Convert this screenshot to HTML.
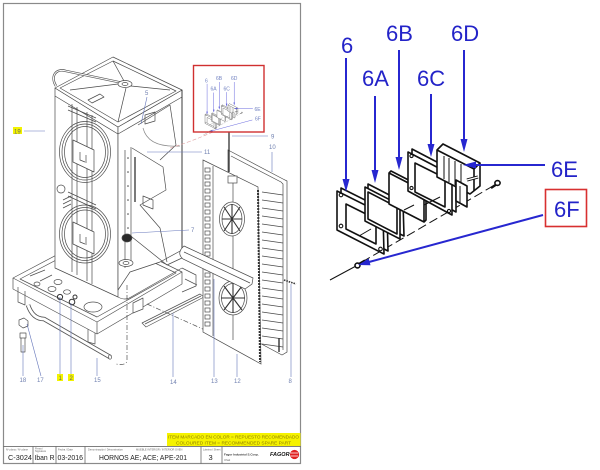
<!DOCTYPE html>
<html><head><meta charset="utf-8">
<style>
html,body{margin:0;padding:0;background:#fff;}
svg{display:block;}
text{font-family:"Liberation Sans",Arial,sans-serif;}
</style></head>
<body>
<svg width="600" height="470" viewBox="0 0 600 470" xmlns="http://www.w3.org/2000/svg">
<rect width="600" height="470" fill="#fff"/>

<!-- ============ LEFT SHEET ============ -->
<rect x="3.5" y="3.5" width="297" height="460" fill="none" stroke="#8a8a8a" stroke-width="1.2"/>

<!-- Base platform -->
<g stroke="#505050" stroke-width="0.7" fill="none" stroke-linejoin="round">
  <polygon points="13,278 100,232 182,272 97,322" fill="#fff"/>
  <path d="M20,279 L100,237 L176,273 L97,317 Z"/>
  <path d="M13,278 L13,289 L97,334 L182,284 L182,272 M97,322 L97,334"/>
  <path d="M18,287 L18,302 L25,305 L25,291 M88,329 L88,342 L95,344 L95,333"/>
  <path d="M182,268 L196,275 L196,286 L182,292 M185,279 L197,285"/>
  <ellipse cx="52" cy="289" rx="4" ry="2.5"/>
  <ellipse cx="58" cy="282" rx="4" ry="2.5"/>
  <ellipse cx="67" cy="292" rx="3.5" ry="2.2"/>
  <ellipse cx="93" cy="307" rx="9" ry="5"/>
  <ellipse cx="37" cy="284" rx="3" ry="2"/>
  <path d="M30,276 L45,270 M40,281 L52,275"/>
  <circle cx="60" cy="297" r="2.6" stroke="#333" stroke-width="1"/>
  <circle cx="72" cy="302" r="2.8" stroke="#333" stroke-width="1"/>
  <circle cx="75" cy="297" r="2" stroke="#333" stroke-width="1"/>
  <path d="M118,297 Q125,301 131,297 L182,268"/>
  <path d="M133,303 L143,298 L143,309 L133,313 Z" fill="#fff"/>
  <!-- bar 14 -->
  <polygon points="142,323 200,294 204,297 146,327" fill="#fff"/>
  <path d="M145,324 L201,296"/>
  <!-- rod 15 -->
  <path d="M28,305 C31,314 36,319 44,319 L110,357" stroke="#555" stroke-width="4.5"/>
  <path d="M28,305 C31,314 36,319 44,319 L110,357" stroke="#fff" stroke-width="2.8"/>
  <ellipse cx="110" cy="357" rx="1.6" ry="2.2"/>
  <path d="M127,285 L127,360 Q127,366 116,364" stroke-dasharray="5 2 1 2"/>
  <path d="M147,304 L205,330" stroke-dasharray="5 2 1 2"/>
  <!-- 17, 18 -->
  <polygon points="19,320 24,318 28,321 28,326 23,328 19,325" fill="#fff"/>
  <path d="M20,333 L26,333 L26,338 L20,338 Z M21,338 L21,352 L25,352 L25,338"/>
</g>

<!-- Oven body -->
<g stroke="#4a4a4a" stroke-width="0.7" fill="none" stroke-linejoin="round">
  <polygon points="55,88 118,127 118,297 55,268" fill="#fff"/>
  <polygon points="118,127 182,90 182,250 160,262 130,272 118,290" fill="#fff"/>
  <polygon points="55,88 113,57 182,90 118,127" fill="#fff"/>
  <path d="M60,88 L113,61 L176,91 L118,122 Z"/>
  <path d="M55,96 L118,134 L182,97"/>
  <path d="M113,61 L124,81 M131,86 L170,90 M118,122 L126,88 M70,90 L118,84"/>
  <polygon points="88,100 100,94 104,97 92,103" />
  <path d="M56,86 C50,76 56,68 66,71 L123,83" stroke="#555" stroke-width="2.4"/>
  <path d="M56,86 C50,76 56,68 66,71 L123,83" stroke="#fff" stroke-width="1"/>
  <ellipse cx="125" cy="84" rx="7" ry="3.5" fill="#fff"/>
  <ellipse cx="125" cy="84" rx="3" ry="1.5"/>
  <!-- door circles -->
  <ellipse cx="85" cy="152" rx="25.5" ry="30.5"/>
  <ellipse cx="85" cy="152" rx="23" ry="28"/>
  <ellipse cx="85" cy="152" rx="20.5" ry="25.5"/>
  <ellipse cx="85" cy="234" rx="25.5" ry="29"/>
  <ellipse cx="85" cy="234" rx="23" ry="26.5"/>
  <ellipse cx="85" cy="234" rx="20.5" ry="24"/>
  <!-- bars -->
  <path d="M72,104 L72,272 M77,107 L77,275 M87,112 L87,281 M92,115 L92,284"/>
  <path d="M68,106 L96,118 M68,110 L96,122 M68,192 L96,205 M68,196 L96,209"/>
  <polygon points="73,140 94,150 94,172 73,162" fill="#fff"/>
  <polygon points="73,222 94,232 94,254 73,244" fill="#fff"/>
  <path d="M80,152 L80,160 L85,162 M86,155 L86,163"/>
  <path d="M80,234 L80,242 L85,244 M86,237 L86,245"/>
  <ellipse cx="61" cy="189" rx="4" ry="4" fill="#fff"/>
  <path d="M63,200 L71,196 M63,204 L71,200 M63,208 L71,204"/>
  <!-- right face -->
  <path d="M125,150 L125,268 M131,147 L131,262"/>
  <path d="M135,157 L135,202" stroke="#333" stroke-width="1.3"/>
  <g fill="#444" stroke="none">
    <circle cx="128" cy="158" r="0.8"/><circle cx="128" cy="172" r="0.8"/><circle cx="128" cy="186" r="0.8"/>
    <circle cx="128" cy="200" r="0.8"/><circle cx="128" cy="214" r="0.8"/><circle cx="128" cy="228" r="0.8"/>
  </g>
  <path d="M132,148 L163,167 L166,190 L140,205 L160,228 L167,262"/>
  <path d="M138,125 L170,105 L176,145 L160,160"/>
  <polygon points="143,196 153,200 153,209 143,205"/>
  <polygon points="145,115 155,112 155,121 145,124"/>
  <path d="M132,237 L167,265 L182,258"/>
  <ellipse cx="127" cy="238" rx="5" ry="4" fill="#2a2a2a"/>
  <ellipse cx="126" cy="263" rx="7" ry="3.5" fill="#fff"/>
  <ellipse cx="126" cy="263" rx="3" ry="1.5"/>
  <path d="M143,128 Q148,148 180,146" stroke="#888"/>
  <path d="M182,90 L182,250" stroke="#333" stroke-width="0.9"/>
</g>

<!-- Back ridged panel 10 -->
<g stroke="#4a4a4a" stroke-width="0.7" fill="none">
  <polygon points="228,150 283,179 287,181 287,352 282,355 228,326" fill="#fff"/>
  <path d="M231,156 L281,182 L283,184 L283,350"/>
  <path d="M262,192 L283,195 M262,200 L283,203 M262,208 L283,211 M262,216 L283,219 M262,224 L283,227 M262,232 L283,235 M262,240 L283,243 M262,248 L283,251 M262,256 L283,259 M262,264 L283,267 M262,272 L283,275 M262,280 L283,283 M262,288 L283,291 M262,296 L283,299 M262,304 L283,307 M262,312 L283,315 M262,320 L283,323 M262,328 L283,331 M262,336 L283,339 M262,344 L283,347"/>
  <path d="M279,338 L279,352" stroke="#333" stroke-width="1.4"/>
  <path d="M229,132 L229,172" stroke="#222" stroke-width="1.2"/>
</g>

<!-- Front fan panel 12 -->
<g stroke="#4a4a4a" stroke-width="0.7" fill="none">
  <polygon points="203,160 258,187 261,364 203,332" fill="#fff"/>
  <path d="M213,166 L213,336"/>
  <g fill="#fff">
    <rect x="205" y="168" width="5" height="4"/><rect x="205" y="175" width="5" height="4"/><rect x="205" y="182" width="5" height="4"/>
    <rect x="205" y="189" width="5" height="4"/><rect x="205" y="196" width="5" height="4"/><rect x="205" y="203" width="5" height="4"/>
    <rect x="205" y="210" width="5" height="4"/><rect x="205" y="217" width="5" height="4"/><rect x="205" y="224" width="5" height="4"/>
    <rect x="205" y="231" width="5" height="4"/><rect x="205" y="238" width="5" height="4"/><rect x="205" y="245" width="5" height="4"/>
    <rect x="205" y="252" width="5" height="4"/><rect x="205" y="259" width="5" height="4"/><rect x="205" y="266" width="5" height="4"/>
    <rect x="205" y="273" width="5" height="4"/><rect x="205" y="280" width="5" height="4"/><rect x="205" y="287" width="5" height="4"/>
    <rect x="205" y="294" width="5" height="4"/><rect x="205" y="301" width="5" height="4"/><rect x="205" y="308" width="5" height="4"/>
    <rect x="205" y="315" width="5" height="4"/><rect x="205" y="322" width="5" height="4"/>
  </g>
  <path d="M258,190 L260,362" stroke="#333" stroke-width="2" stroke-dasharray="2 1"/>
  <path d="M233,183 L233,202 M233,236 L233,282 M233,315 L233,340"/>
  <rect x="228" y="176" width="9" height="7" fill="#fff"/>
  <ellipse cx="232" cy="219" rx="12.5" ry="17" fill="#fff"/>
  <ellipse cx="232" cy="219" rx="10" ry="14.5"/>
  <path d="M224,207 L240,231 M240,207 L224,231 M232,204 L232,234 M222,219 L242,219" stroke="#333" stroke-width="1.1"/>
  <ellipse cx="233" cy="298" rx="14" ry="17" fill="#fff"/>
  <ellipse cx="233" cy="298" rx="11.5" ry="14.5"/>
  <path d="M224,286 L242,310 M242,286 L224,310 M233,283 L233,313 M221,298 L245,298" stroke="#333" stroke-width="1.1"/>
  <!-- deflector 13 -->
  <path d="M184,246 L253,278 L252,284 L245,289 L183,259 Q176,253 184,246 Z" fill="#fff"/>
  <path d="M184,252 L250,283"/>
  <path d="M284,280 L296,284" stroke="#333" stroke-width="1.6" stroke-dasharray="1.5 1"/>
</g>

<!-- Leader lines & labels (left) -->
<g stroke="#6677bb" stroke-width="0.6" fill="none">
  <path d="M24,131 L45,131 M147,97 L141,124 M232,136 L268,136 M147,152 L202,152 M272,152 L272,172 M132,233 L189,230"/>
  <path d="M23,376 L23,345 M41,376 L27,324 M60,376 L60,297 M71,376 L71,303 M97,376 L97,358 M173,377 L173,313 M214,377 L214,279 M237,377 L237,354 M291,377 L291,284"/>
  <path d="M213,132 Q190,142 170,148" stroke="#e0a0a0" stroke-dasharray="4 2"/>
</g>
<rect x="13" y="127" width="9" height="7" fill="#f3f300"/>
<rect x="57" y="374" width="6" height="7" fill="#f3f300"/>
<rect x="68" y="374" width="6" height="7" fill="#f3f300"/>
<g font-size="6" fill="#7080b0">
  <text x="14" y="133.5" fill="#666">19</text>
  <text x="145" y="95">5</text>
  <text x="271" y="138.5">9</text>
  <text x="204" y="154">11</text>
  <text x="269" y="149">10</text>
  <text x="191" y="232">7</text>
  <text x="19.5" y="382">18</text>
  <text x="37" y="382">17</text>
  <text x="58.5" y="380" fill="#666">1</text>
  <text x="69.5" y="380" fill="#666">2</text>
  <text x="94" y="382">15</text>
  <text x="170" y="384">14</text>
  <text x="211" y="383">13</text>
  <text x="234" y="383">12</text>
  <text x="288.5" y="383">8</text>
</g>

<!-- Red box with miniature -->
<use href="#parts" transform="translate(127.5,70.5) scale(0.23)" opacity="0.75"/>
<g font-size="5" fill="#7080c0">
  <text x="205" y="82.5">6</text>
  <text x="210.5" y="90.3">6A</text>
  <text x="216" y="79.9">6B</text>
  <text x="223.5" y="90.3">6C</text>
  <text x="231" y="79.9">6D</text>
  <text x="254.5" y="111.2">6E</text>
  <text x="255" y="120.4">6F</text>
</g>
<rect x="193.5" y="65.5" width="70.5" height="66.5" fill="none" stroke="#d03030" stroke-width="1.4"/>

<!-- Yellow note -->
<rect x="167" y="433" width="133.5" height="13" fill="#f5f200"/>
<text x="168" y="438.6" font-size="4.6" fill="#8f7d00" textLength="131" lengthAdjust="spacingAndGlyphs">ITEM MARCADO EN COLOR = REPUESTO RECOMENDADO</text>
<text x="176" y="444.6" font-size="4.6" fill="#8f7d00" textLength="115" lengthAdjust="spacingAndGlyphs">COLOURED  ITEM =  RECOMMENDED SPARE PART</text>

<!-- Title block -->
<g stroke="#555" stroke-width="0.7" fill="none">
  <path d="M3.5,446.5 L300.5,446.5 M33,446.5 L33,463.5 M56,446.5 L56,463.5 M85,446.5 L85,463.5 M201,446.5 L201,463.5 M222,446.5 L222,463.5"/>
</g>
<g font-size="2.6" fill="#666">
  <text x="6" y="450.5">Nº plano / Nº plane</text>
  <text x="35" y="449.5">Firma /</text>
  <text x="35" y="452">Signature</text>
  <text x="58" y="450.5">Fecha / Date</text>
  <text x="88" y="450.5">Denominación / Dénomination</text>
  <text x="136" y="450.5">MUEBLE INTERIOR / INTERIOR OVEN</text>
  <text x="203" y="450.5">Lámina / Sheet</text>
  <text x="224" y="461">Oñati</text>
</g>
<g font-size="7.5" fill="#222">
  <text x="8" y="460" textLength="24" lengthAdjust="spacingAndGlyphs">C-3024</text>
  <text x="34.5" y="460" textLength="20" lengthAdjust="spacingAndGlyphs">Iban R</text>
  <text x="57.5" y="460" textLength="25.5" lengthAdjust="spacingAndGlyphs">03-2016</text>
  <text x="99" y="460" textLength="88" lengthAdjust="spacingAndGlyphs">HORNOS AE; ACE; APE-201</text>
  <text x="208.5" y="460">3</text>
</g>
<text x="224" y="455.5" font-size="3" font-weight="bold" fill="#333">Fagor Industrial S.Coop.</text>
<text x="270" y="456" font-size="5.5" font-weight="bold" font-style="italic" fill="#111">FAGOR</text>
<circle cx="294.5" cy="454.5" r="4.6" fill="#e02020"/>
<path d="M290.5,453 L298,453 M290.5,456 L298,456" stroke="#fff" stroke-width="0.8"/>

<!-- ============ RIGHT DETAIL ============ -->
<g id="parts">
  <g stroke="#111" stroke-width="1.6" fill="#fff" stroke-linejoin="round">
    <path d="M330,280 L356,266" fill="none" stroke-width="1"/>
    <path d="M362,262 L493,186" fill="none" stroke-width="1" stroke-dasharray="9 4"/>
    <!-- 6 -->
    <polygon points="341,188 387,211 388,251 341,227"/>
    <polygon points="337,191 383,214 384,254 337,230"/>
    <polygon points="346,204 376,219 376,244 346,229"/>
    <path d="M359,236 L371,229" fill="none" stroke-width="1"/>
    <g fill="none" stroke-width="1.1">
      <circle cx="341" cy="195" r="1.8"/><circle cx="380" cy="215" r="1.8"/>
      <circle cx="380.5" cy="249" r="1.8"/><circle cx="341" cy="226" r="1.8"/>
    </g>
    <!-- 6A -->
    <polygon points="368,184 403,202 404,236 368,218"/>
    <polygon points="365,187 400,205 400,239 365,221"/>
    <polygon points="368,192 397,207 397,234 368,219"/>
    <!-- 6B -->
    <path d="M389,173 L391,171 L426,189 L426,220 L424,222" fill="none"/>
    <polygon points="389,173 424,191 424,222 389,204"/>
    <path d="M404,210 L414,205" fill="none" stroke-width="1"/>
    <!-- 6C -->
    <polygon points="412,149 456,172 456,212 412,188"/>
    <polygon points="408,152 452,175 452,215 408,191"/>
    <polygon points="415,163 445,178 445,207 415,192"/>
    <path d="M424,205 L440,197" fill="none" stroke-width="1"/>
    <g fill="none" stroke-width="1.1">
      <circle cx="411.5" cy="156" r="1.6"/><circle cx="448.5" cy="176" r="1.6"/>
      <circle cx="449" cy="211" r="1.6"/><circle cx="411.5" cy="188" r="1.6"/>
    </g>
    <!-- 6D -->
    <polygon points="437,150 443,144 480,163 480,186 470,194 437,177"/>
    <path d="M437,150 L474,169 L480,163 M474,169 L474,191" fill="none"/>
    <path d="M444,156 L444,179 M449,158 L449,182 M455,161 L455,185 M461,164 L461,188" fill="none" stroke-width="1"/>
    <polygon points="456,180 467,186 467,207 456,201"/>
    <path d="M460,186 L460,203" fill="none" stroke-width="1"/>
    <path d="M467,180 L478,177" fill="none" stroke-width="3.2"/>
    <path d="M467,180 L478,177" fill="none" stroke="#fff" stroke-width="1.2"/>
    <!-- bolts -->
    <path d="M497,184 L491,188" fill="none" stroke-width="2.4"/>
    <ellipse cx="497.5" cy="183" rx="2.6" ry="2.4"/>
    <path d="M359,264 L365,260.5" fill="none" stroke-width="2.4"/>
    <ellipse cx="357.5" cy="265.5" rx="2.5" ry="2.4"/>
  </g>
  <!-- blue arrows -->
  <g stroke="#2727d0" stroke-width="2" fill="none">
    <path d="M346,58 L346,181 M375,96 L375,172 M399,50 L399,159 M431,94 L431,146 M464,50 L464,141 M545,165 L474,165 M543,215 L369,262"/>
  </g>
  <g fill="#2727d0">
    <polygon points="342.5,179 349.5,179 346,192"/>
    <polygon points="371.5,170 378.5,170 375,183"/>
    <polygon points="395.5,157 402.5,157 399,170"/>
    <polygon points="427.5,144 434.5,144 431,157"/>
    <polygon points="460.5,139 467.5,139 464,152"/>
    <polygon points="476,161.5 476,168.5 463,165"/>
    <polygon points="370.5,265.3 368.7,258.5 358,265"/>
  </g>
</g>

<g font-size="22" fill="#2323c8">
  <text x="341" y="53">6</text>
  <text x="362" y="86">6A</text>
  <text x="386" y="41">6B</text>
  <text x="417" y="86">6C</text>
  <text x="451" y="41">6D</text>
  <text x="551" y="177">6E</text>
  <text x="554" y="217">6F</text>
</g>
<rect x="545.5" y="189.5" width="41" height="37" fill="none" stroke="#d83030" stroke-width="1.6"/>

</svg>
</body></html>
